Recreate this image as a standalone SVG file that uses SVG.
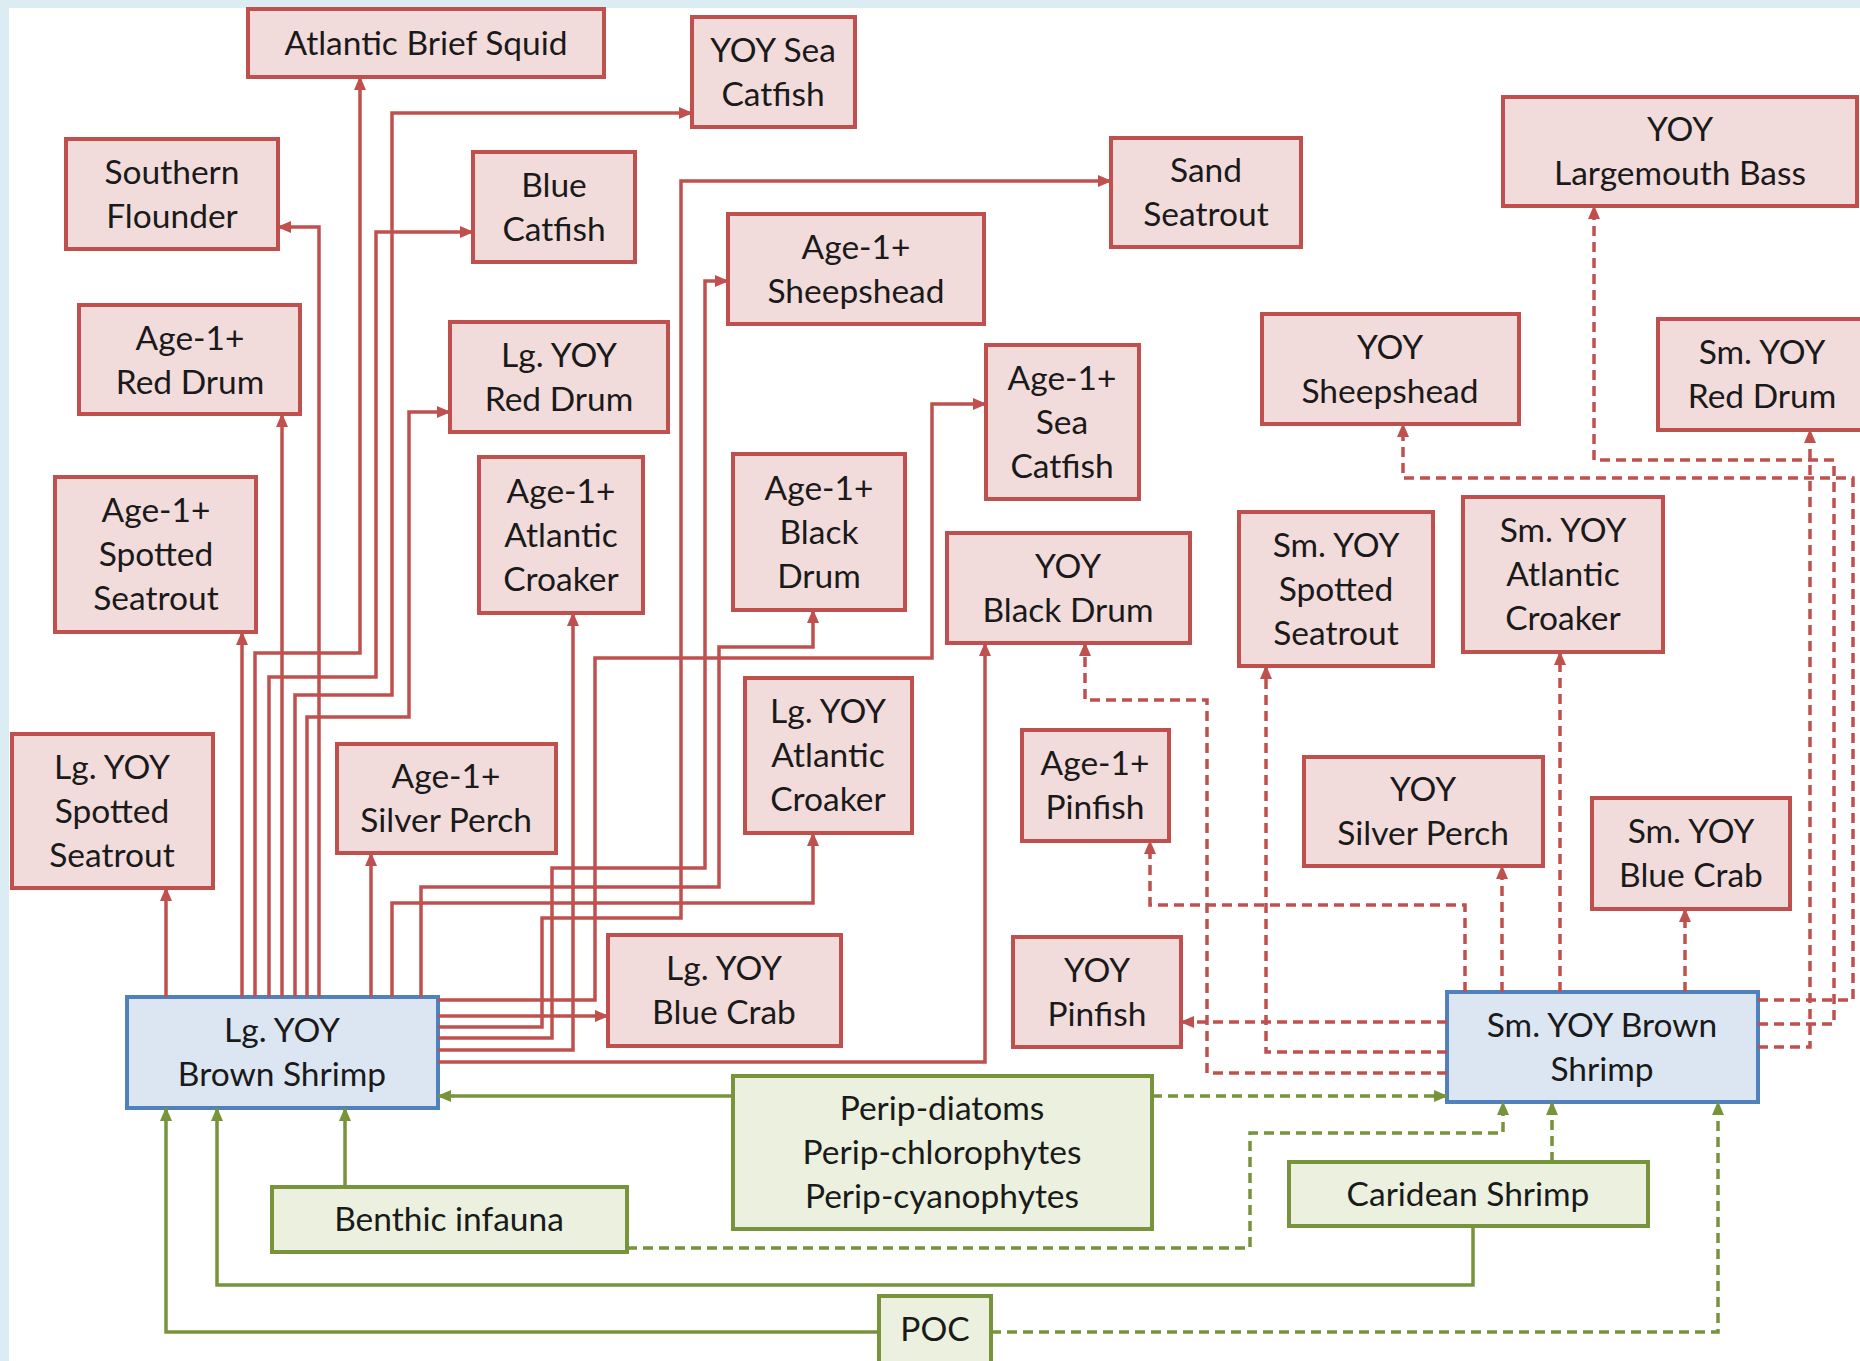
<svg xmlns="http://www.w3.org/2000/svg" width="1860" height="1361" viewBox="0 0 1860 1361">
<defs>
<style>
.r rect{fill:#f2dcdb;stroke:#c0504d;stroke-width:4}
.b rect{fill:#dce6f2;stroke:#4f81bd;stroke-width:4}
.g rect{fill:#ebf1de;stroke:#77933c;stroke-width:4}
text{font-family:Lato,"Open Sans","Liberation Sans",sans-serif;font-size:33.5px;fill:#1a1a1a;text-anchor:middle}
.cr{fill:none;stroke:#c0504d;stroke-width:3.5}
.cg{fill:none;stroke:#77933c;stroke-width:3.5}
.ar{marker-end:url(#mr)}
.ag{marker-end:url(#mg)}
.d{stroke-dasharray:10 6}
</style>
<marker id="mr" markerUnits="userSpaceOnUse" markerWidth="14" markerHeight="12" refX="13" refY="6" orient="auto"><path d="M0,0 L14,6 L0,12 z" fill="#c0504d"/></marker>
<marker id="mg" markerUnits="userSpaceOnUse" markerWidth="14" markerHeight="12" refX="13" refY="6" orient="auto"><path d="M0,0 L14,6 L0,12 z" fill="#77933c"/></marker>
</defs>
<rect x="0" y="0" width="1860" height="1361" fill="#dbecf3"/>
<rect x="9" y="8" width="1851" height="1353" fill="#ffffff"/>

<g id="n-abs" class="r"><rect x="248" y="9" width="356" height="68"/><text x="426" y="55">Atlantic Brief Squid</text></g>
<g id="n-yoysc" class="r"><rect x="692" y="17" width="163" height="110"/><text x="773" y="62">YOY Sea</text><text x="773" y="106">Catfish</text></g>
<g id="n-sf" class="r"><rect x="66" y="139" width="212" height="110"/><text x="172" y="184">Southern</text><text x="172" y="228">Flounder</text></g>
<g id="n-bc" class="r"><rect x="473" y="152" width="162" height="110"/><text x="554" y="197">Blue</text><text x="554" y="241">Catfish</text></g>
<g id="n-sand" class="r"><rect x="1111" y="138" width="190" height="109"/><text x="1206" y="182">Sand</text><text x="1206" y="226">Seatrout</text></g>
<g id="n-a1sh" class="r"><rect x="728" y="214" width="256" height="110"/><text x="856" y="259">Age-1+</text><text x="856" y="303">Sheepshead</text></g>
<g id="n-lmb" class="r"><rect x="1503" y="97" width="354" height="109"/><text x="1680" y="141">YOY</text><text x="1680" y="185">Largemouth Bass</text></g>
<g id="n-a1rd" class="r"><rect x="79" y="305" width="221" height="109"/><text x="190" y="350">Age-1+</text><text x="190" y="394">Red Drum</text></g>
<g id="n-lgrd" class="r"><rect x="450" y="322" width="218" height="110"/><text x="559" y="367">Lg. YOY</text><text x="559" y="411">Red Drum</text></g>
<g id="n-a1sc" class="r"><rect x="986" y="345" width="153" height="154"/><text x="1062" y="390">Age-1+</text><text x="1062" y="434">Sea</text><text x="1062" y="478">Catfish</text></g>
<g id="n-yoysh" class="r"><rect x="1262" y="314" width="257" height="110"/><text x="1390" y="359">YOY</text><text x="1390" y="403">Sheepshead</text></g>
<g id="n-smrd" class="r"><rect x="1658" y="319" width="210" height="111"/><text x="1762" y="364">Sm. YOY</text><text x="1762" y="408">Red Drum</text></g>
<g id="n-a1ss" class="r"><rect x="55" y="477" width="201" height="155"/><text x="156" y="522">Age-1+</text><text x="156" y="566">Spotted</text><text x="156" y="610">Seatrout</text></g>
<g id="n-a1ac" class="r"><rect x="479" y="457" width="164" height="156"/><text x="561" y="503">Age-1+</text><text x="561" y="547">Atlantic</text><text x="561" y="591">Croaker</text></g>
<g id="n-a1bd" class="r"><rect x="733" y="454" width="172" height="156"/><text x="819" y="500">Age-1+</text><text x="819" y="544">Black</text><text x="819" y="588">Drum</text></g>
<g id="n-yoybd" class="r"><rect x="947" y="533" width="243" height="110"/><text x="1068" y="578">YOY</text><text x="1068" y="622">Black Drum</text></g>
<g id="n-smss" class="r"><rect x="1239" y="512" width="194" height="154"/><text x="1336" y="557">Sm. YOY</text><text x="1336" y="601">Spotted</text><text x="1336" y="645">Seatrout</text></g>
<g id="n-smac" class="r"><rect x="1463" y="497" width="200" height="155"/><text x="1563" y="542">Sm. YOY</text><text x="1563" y="586">Atlantic</text><text x="1563" y="630">Croaker</text></g>
<g id="n-lgss" class="r"><rect x="12" y="734" width="201" height="154"/><text x="112" y="779">Lg. YOY</text><text x="112" y="823">Spotted</text><text x="112" y="867">Seatrout</text></g>
<g id="n-a1sp" class="r"><rect x="337" y="744" width="219" height="109"/><text x="446" y="788">Age-1+</text><text x="446" y="832">Silver Perch</text></g>
<g id="n-lgac" class="r"><rect x="745" y="678" width="167" height="155"/><text x="828" y="723">Lg. YOY</text><text x="828" y="767">Atlantic</text><text x="828" y="811">Croaker</text></g>
<g id="n-a1pf" class="r"><rect x="1022" y="730" width="147" height="111"/><text x="1095" y="775">Age-1+</text><text x="1095" y="819">Pinfish</text></g>
<g id="n-yoysp" class="r"><rect x="1304" y="757" width="239" height="109"/><text x="1423" y="801">YOY</text><text x="1423" y="845">Silver Perch</text></g>
<g id="n-smbc" class="r"><rect x="1592" y="798" width="198" height="111"/><text x="1691" y="843">Sm. YOY</text><text x="1691" y="887">Blue Crab</text></g>
<g id="n-lgbc" class="r"><rect x="608" y="935" width="233" height="111"/><text x="724" y="980">Lg. YOY</text><text x="724" y="1024">Blue Crab</text></g>
<g id="n-yoypf" class="r"><rect x="1013" y="937" width="168" height="110"/><text x="1097" y="982">YOY</text><text x="1097" y="1026">Pinfish</text></g>
<g id="n-lbs" class="b"><rect x="127" y="997" width="311" height="111"/><text x="282" y="1042">Lg. YOY</text><text x="282" y="1086">Brown Shrimp</text></g>
<g id="n-sbs" class="b"><rect x="1447" y="992" width="311" height="110"/><text x="1602" y="1037">Sm. YOY Brown</text><text x="1602" y="1081">Shrimp</text></g>
<g id="n-perip" class="g"><rect x="733" y="1076" width="419" height="153"/><text x="942" y="1120">Perip-diatoms</text><text x="942" y="1164">Perip-chlorophytes</text><text x="942" y="1208">Perip-cyanophytes</text></g>
<g id="n-benthic" class="g"><rect x="272" y="1187" width="355" height="65"/><text x="449" y="1231">Benthic infauna</text></g>
<g id="n-caridean" class="g"><rect x="1289" y="1162" width="359" height="64"/><text x="1468" y="1206">Caridean Shrimp</text></g>
<g id="n-poc" class="g"><rect x="879" y="1296" width="112" height="70"/><text x="935" y="1341">POC</text></g>

<g id="connectors">
<path class="cr ar" d="M166,997 V888"/>
<path class="cr ar" d="M242,997 V632"/>
<path class="cr ar" d="M255,997 V653 H360 V77"/>
<path class="cr ar" d="M269,997 V677 H376 V232 H473"/>
<path class="cr ar" d="M282,997 V414"/>
<path class="cr ar" d="M295,997 V695 H392 V113 H692"/>
<path class="cr ar" d="M307,997 V717 H409 V412 H450"/>
<path class="cr ar" d="M319,997 V227 H278"/>
<path class="cr ar" d="M371,997 V853"/>
<path class="cr ar" d="M392,997 V903 H813 V833"/>
<path class="cr ar" d="M421,997 V887 H719 V647 H813 V610"/>
<path class="cr ar" d="M438,1000 H595 V658 H932 V404 H986"/>
<path class="cr ar" d="M438,1016 H608"/>
<path class="cr ar" d="M438,1027 H542 V918 H681 V181 H1111"/>
<path class="cr ar" d="M438,1038 H552 V868 H705 V281 H728"/>
<path class="cr ar" d="M438,1050 H573 V613"/>
<path class="cr ar" d="M438,1062 H985 V643"/>
<path class="cr ar d" d="M1465,992 V905 H1150 V841"/>
<path class="cr ar d" d="M1502,992 V866"/>
<path class="cr ar d" d="M1560,992 V652"/>
<path class="cr ar d" d="M1685,992 V909"/>
<path class="cr ar d" d="M1447,1022 H1181"/>
<path class="cr ar d" d="M1447,1052 H1266 V666"/>
<path class="cr ar d" d="M1447,1073 H1207 V700 H1085 V643"/>
<path class="cr ar d" d="M1758,1000 H1853 V478 H1403 V424"/>
<path class="cr ar d" d="M1758,1024 H1834 V460 H1594 V206"/>
<path class="cr ar d" d="M1758,1047 H1810 V430"/>
<path class="cg ag" d="M733,1096 H438"/>
<path class="cg ag" d="M345,1187 V1108"/>
<path class="cg ag" d="M1473,1226 V1285 H217 V1108"/>
<path class="cg ag" d="M879,1332 H166 V1108"/>
<path class="cg ag d" d="M1152,1096 H1447"/>
<path class="cg ag d" d="M627,1248 H1250 V1133 H1503 V1102"/>
<path class="cg ag d" d="M1552,1162 V1102"/>
<path class="cg ag d" d="M991,1332 H1718 V1102"/>
</g>
</svg>
